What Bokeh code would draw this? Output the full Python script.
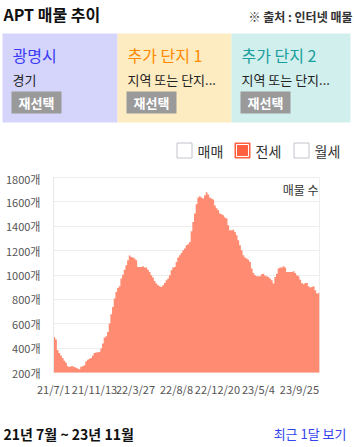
from bokeh.plotting import figure
from bokeh.layouts import column
from bokeh.models import Range1d, FixedTicker, Label, ColumnDataSource
from bokeh.core.properties import value
from bokeh.embed import file_html
from bokeh.resources import INLINE

FONT = "Noto Sans CJK KR"

# ---------------- data ----------------
listing_counts = [
    492, 470, 385, 361, 340, 320, 296, 280, 252, 246,
    252, 252, 246, 238, 233, 227, 248, 252, 260, 290,
    305, 312, 320, 340, 360, 365, 367, 369, 397, 438,
    487, 498, 533, 602, 678, 738, 807, 861, 894, 908,
    971, 1003, 1044, 1080, 1121, 1159, 1148, 1143, 1135, 1121,
    1066, 1066, 1066, 1072, 1061, 1061, 1044, 1025, 998, 979,
    951, 930, 916, 908, 902, 916, 935, 957, 971, 998,
    1039, 1061, 1066, 1107, 1143, 1162, 1181, 1203, 1217, 1244,
    1252, 1271, 1360, 1435, 1504, 1580, 1635, 1646, 1635, 1627,
    1654, 1679, 1660, 1635, 1627, 1620, 1570, 1548, 1531, 1504,
    1498, 1490, 1471, 1463, 1408, 1367, 1367, 1372, 1353, 1326,
    1285, 1244, 1203, 1162, 1143, 1135, 1126, 1107, 1053, 1017,
    998, 990, 990, 990, 1006, 1011, 993, 990, 984, 971,
    957, 930, 984, 1011, 1053, 1061, 1061, 1072, 1061, 1025,
    1025, 1025, 1025, 1031, 1017, 998, 990, 962, 935, 924,
    935, 935, 908, 897, 902, 908, 875, 848, 853, 826,
]
tick_index = [0, 24.5, 49, 73.5, 98, 122.5, 147]
tick_labels = ["21/7/1", "21/11/13", "22/3/27", "22/8/8", "22/12/20", "23/5/4", "23/9/25"]
y_ticks = [200, 400, 600, 800, 1000, 1200, 1400, 1600, 1800]
y_tick_labels = [f"{v}개" for v in y_ticks]

panel_titles = ["광명시", "추가 단지 1", "추가 단지 2"]
panel_subtitles = ["경기", "지역 또는 단지...", "지역 또는 단지..."]
legend_items = ["매매", "전세", "월세"]

FILL = "#ff8c72"


def base_fig(h, yr):
    f = figure(width=354, height=h, x_range=Range1d(0, 354), y_range=Range1d(*yr),
               toolbar_location=None, output_backend="svg", min_border=0,
               x_axis_location=None, y_axis_location=None,
               outline_line_color=None, frame_align=False)
    f.grid.visible = False
    return f


def txt(f, x, y, s, size, color, bold=False, align="left"):
    f.text(x=[x], y=[y], text=[s], text_font=value(FONT), text_font_size=f"{size}px",
           text_color=color, text_baseline="middle", text_align=align,
           text_font_style="bold" if bold else "normal")


# ---------------- top ----------------
top = base_fig(170, (170, 0))
txt(top, 3, 13, "APT 매물 추이", 16, "#111111", bold=True)
txt(top, 352, 16, "※ 출처 : 인터넷 매물", 12, "#333333", bold=True, align="right")

panel_lefts = [2, 117, 231]
panel_rights = [117, 231, 350]
panel_fills = ["#d5d5fb", "#fdecc2", "#d0efed"]
title_colors = ["#3a3af5", "#ff8a00", "#1a9e9e"]
top.quad(left=panel_lefts, right=panel_rights, top=[33] * 3, bottom=[122] * 3,
         fill_color=panel_fills, line_color=None)
for i in range(3):
    x0 = panel_lefts[i]
    txt(top, x0 + 10, 54, panel_titles[i], 16, title_colors[i])
    txt(top, x0 + 10, 79, panel_subtitles[i], 13, "#222222")
    top.quad(left=[x0 + 9], right=[x0 + 59], top=[91], bottom=[113],
             fill_color="#9a9a9a", line_color=None)
    txt(top, x0 + 34, 102, "재선택", 13, "white", bold=True, align="center")

box_lefts = [176.5, 234.5, 293.5]
for i, name in enumerate(legend_items):
    bx = box_lefts[i]
    if i == 1:
        top.quad(left=[bx], right=[bx + 15], top=[142.5], bottom=[157.5],
                 fill_color="#ff6040", line_color="#ff6040", line_width=1)
        top.quad(left=[bx + 1.5], right=[bx + 13.5], top=[144], bottom=[156],
                 fill_color="#ff6040", line_color="white", line_width=1)
    else:
        top.quad(left=[bx], right=[bx + 15], top=[142.5], bottom=[157.5],
                 fill_color="white", line_color="#c2c2cc", line_width=1)
    txt(top, bx + 20.5, 150, name, 14, "#333333")

# ---------------- chart ----------------
n = len(listing_counts)
src = ColumnDataSource(dict(x=list(range(n)), y=listing_counts))
p = figure(width=354, height=230, x_range=Range1d(0, n - 1), y_range=Range1d(200, 1800),
           toolbar_location=None, output_backend="svg",
           min_border_left=53, min_border_right=35, min_border_top=7, min_border_bottom=28,
           outline_line_color="#eeeeee", frame_align=False)
p.varea_step(x="x", y1=0, y2="y", source=src, step_mode="after", fill_color=FILL)

p.yaxis.ticker = FixedTicker(ticks=y_ticks)
p.yaxis.major_label_overrides = {t: l for t, l in zip(y_ticks, y_tick_labels)}
p.xaxis.ticker = FixedTicker(ticks=tick_index)
p.xaxis.major_label_overrides = {t: l for t, l in zip(tick_index, tick_labels)}
for ax in (p.xaxis[0], p.yaxis[0]):
    ax.major_tick_line_color = None
    ax.minor_tick_line_color = None
    ax.major_tick_out = 0
    ax.major_tick_in = 0
    ax.major_label_text_font = FONT
    ax.major_label_text_font_size = "11px"
    ax.major_label_text_color = "#555555"
p.yaxis.axis_line_color = "#e8e8e8"
p.yaxis.major_label_standoff = 13
p.xaxis.axis_line_color = None
p.xaxis.major_label_standoff = 8
p.xgrid.visible = False
p.ygrid.grid_line_color = "#eeeeee"
p.ygrid.ticker = FixedTicker(ticks=y_ticks)

p.add_layout(Label(x=n - 1, y=1800, x_offset=-1, y_offset=-12, text="매물 수",
                   text_font=FONT, text_font_size="12px", text_color="#333333",
                   text_align="right", text_baseline="middle"))

# ---------------- bottom ----------------
bot = base_fig(47, (47, 0))
txt(bot, 3, 33, "21년 7월 ~ 23년 11월", 14, "#111111", bold=True)
txt(bot, 346, 33, "최근 1달 보기", 13, "#3344ee", align="right")

layout = column(top, p, bot, spacing=0)
open("out.html", "w").write(file_html(layout, INLINE))
